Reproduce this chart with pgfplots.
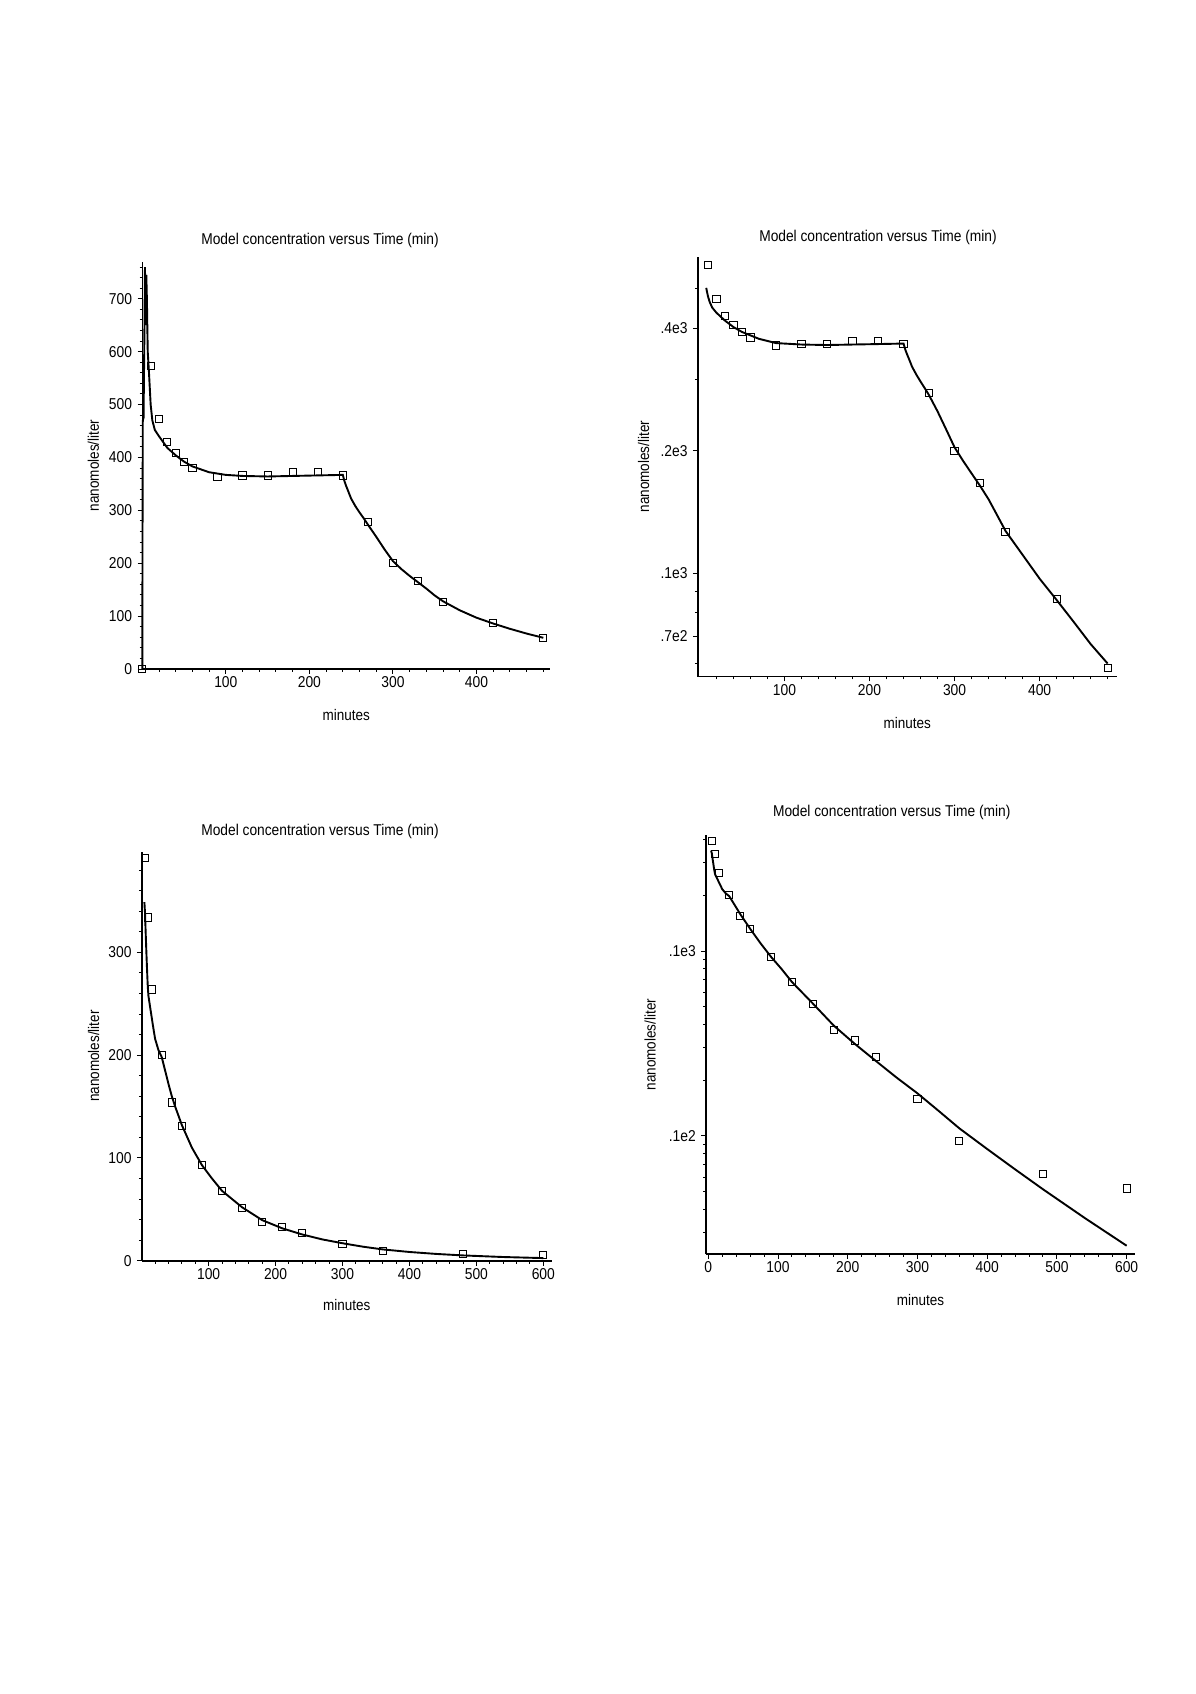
\documentclass[border=0pt]{standalone}
\usepackage{fontspec}
\setmainfont{Liberation Sans}[FakeStretch=0.88]
\usepackage{pgfplots}
\usepackage{pgfplotstable}
\pgfplotsset{compat=1.18}

% measured points, first experiment (t in min, conc in nmol/l)
\pgfplotstableread{
t c
0 0
10 573
20 472
30 429
40 408
50 391
60 380
90 363
120 366
150 366
180 372
210 372
240 366
270 278
300 200
330 167
360 126.6
420 86.5
480 58.5
}\ptsA

% model curve, first experiment (linear plot)
\pgfplotstableread{
t c
0 0
0.3 280
0.6 470
1.5 475
2.5 630
3.2 760
4 650
4.8 745
5.5 700
6.5 600
8 560
10 500
12 470
15 452
20 440
30 418
40 404
50 392
60 383
80 372
100 367
120 365
150 364
180 365
210 366
240 367
242 355
244 346
247 334
250 322
255 308
260 296
265 285
270 273
280 250
290 226
300 204
310 189
320 176
330 164
340 152
350 139
360 128
380 111
400 97
420 86
440 76
460 67
480 59
}\curveA

% model curve, first experiment (log plot)
\pgfplotstableread{
t c
8 503
10 480
12 465
15 450
20 437
30 418
40 403
50 392
70 377
90 368
120 365
150 364
180 365
210 366
240 367
242 355
244 346
247 334
250 322
255 308
260 296
265 285
270 274
280 250
290 226
300 204
310 189
320 176
330 164
340 152
350 139
360 127
380 111
400 97
420 86
440 76
460 67
480 60
}\curveAlog

% measured points, second experiment
\pgfplotstableread{
t c
5 392
10 334
15 264
30 200
45 154
60 131
90 93
120 68
150 51.6
180 37.3
210 32.8
240 26.6
300 15.9
360 9.4
480 6.2
600 5.2
}\ptsB

% model curve, second experiment
\pgfplotstableread{
t c
4 349
5 338
6 318
7 300
8 283
9 268
10 258
13 245
17 228
20 216
25 205
30 198
40 172
45 160
50 150
60 132
75 110
90 93
105 80
120 68
150 52
180 39.5
210 31.5
240 25.5
270 20.7
300 17
330 13.7
360 11
400 8.5
440 6.6
480 5.15
540 3.6
600 2.55
}\curveB

\pgfplotsset{
  maple/.style={
    scale only axis,
    anchor=south west,
    axis lines=left,
    axis line style={-, line width=0.8bp},
    tick align=outside,
    major tick length=2.4bp,
    minor tick length=1.4bp,
    every tick/.style={black, line width=0.5bp},
    tick label style={font=\fontsize{7.9}{8}\selectfont},
    xticklabel style={yshift=2.2bp},
    yticklabel style={xshift=0.8bp},
    label style={font=\fontsize{7.7}{8}\selectfont},
    title style={font=\fontsize{7.85}{8}\selectfont, anchor=center, yshift=-6pt},
    /pgf/number format/assume math mode=true,
    clip=false,
    title={Model concentration versus Time (min)},
    xlabel={minutes},
    ylabel={nanomoles/liter},
  },
  pts/.style={only marks, mark=square, mark size=1.8bp, black, mark options={line width=0.5bp}},
  fit/.style={black, line width=0.95bp, mark=none},
}

\begin{document}
\begin{tikzpicture}
\path[use as bounding box] (0,0) rectangle (598bp,-847bp);

% top left
\begin{axis}[maple,
  at={(71.15bp,-334.5bp)}, width=203.85bp, height=203.65bp,
  xmin=0, xmax=488, ymin=0, ymax=770,
  xtick={100,200,300,400}, minor xtick={20,40,...,480},
  ytick={0,100,...,700}, minor ytick={20,40,...,760},
  title style={at={(axis description cs:0.436,1.053)}},
  xlabel style={at={(axis description cs:0.5,-0.113)}, anchor=center},
  ylabel style={at={(axis description cs:-0.12,0.5)}, anchor=center},
]
\addplot[fit] table[x=t, y=c] {\curveA};
\addplot[pts] table[x=t, y=c] {\ptsA};
\end{axis}

% top right
\begin{axis}[maple,
  at={(348.85bp,-338.35bp)}, width=209.65bp, height=210bp,
  ymode=log,
  xmin=-2, xmax=491, ymin=55.7, ymax=600,
  xtick={100,200,300,400}, minor xtick={20,40,...,480},
  ytick={70,100,200,400}, yticklabels={.7e2,.1e3,.2e3,.4e3},
  minor ytick={60,80,90,300,500},
  title style={at={(axis description cs:0.43,1.047)}},
  xlabel style={at={(axis description cs:0.5,-0.111)}, anchor=center},
  ylabel style={at={(axis description cs:-0.129,0.5)}, anchor=center},
]
\addplot[fit] table[x=t, y=c] {\curveAlog};
\addplot[pts] table[x=t, y=c, skip coords between index={0}{1}] {\ptsA};
\end{axis}

% bottom left
\begin{axis}[maple,
  at={(70.85bp,-630.35bp)}, width=205bp, height=204.5bp,
  xmin=0, xmax=612.5, ymin=0, ymax=398,
  xtick={100,200,...,600}, minor xtick={20,40,...,600},
  ytick={0,100,200,300}, minor ytick={20,40,...,380},
  title style={at={(axis description cs:0.435,1.0506)}},
  xlabel style={at={(axis description cs:0.5,-0.1076)}, anchor=center},
  ylabel style={at={(axis description cs:-0.117,0.5)}, anchor=center},
]
\addplot[fit] table[x=t, y=c] {\curveB};
\addplot[pts] table[x=t, y=c] {\ptsB};
\end{axis}

% bottom right
\begin{axis}[maple,
  at={(353bp,-627bp)}, width=214.5bp, height=209.5bp,
  ymode=log,
  xmin=-3.3, xmax=612, ymin=2.3, ymax=424,
  xtick={0,100,...,600}, minor xtick={20,40,...,600},
  ytick={10,100}, yticklabels={.1e2,.1e3},
  minor ytick={3,4,5,6,7,8,9,20,30,40,50,60,70,80,90,200,300,400},
  title style={at={(axis description cs:0.433,1.053)}},
  xlabel style={at={(axis description cs:0.5,-0.11)}, anchor=center},
  ylabel style={at={(axis description cs:-0.13,0.5)}, anchor=center},
]
\addplot[fit] table[x=t, y=c] {\curveB};
\addplot[pts] table[x=t, y=c] {\ptsB};
\end{axis}
\end{tikzpicture}
\end{document}
